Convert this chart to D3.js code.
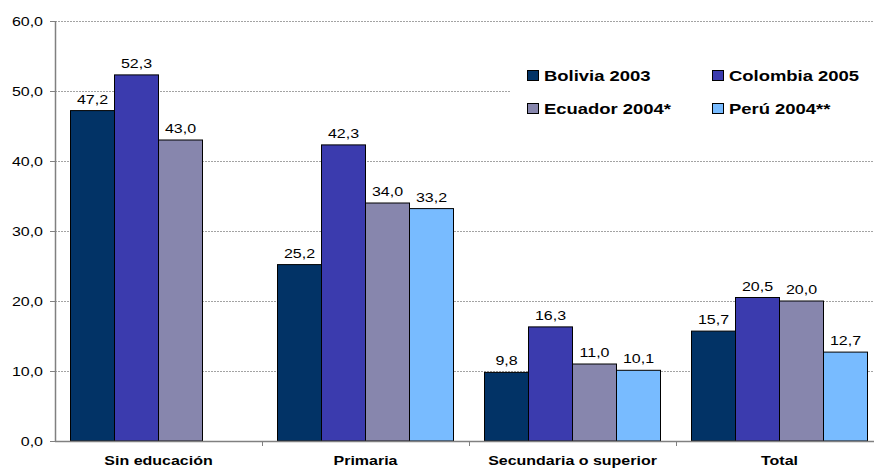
<!DOCTYPE html>
<html>
<head>
<meta charset="utf-8">
<script src="https://cdn.jsdelivr.net/npm/d3@7"></script>
<style>
  html, body { margin: 0; padding: 0; background: #fff; }
  svg { display: block; font-family: Arial, "Liberation Sans", sans-serif; }
</style>
</head>
<body>
<svg id="chart" width="874" height="468"></svg>
<script>
// Educational levels and country series
const categories = ["Sin educación", "Primaria", "Secundaria o superior", "Total"];
const seriesNames = ["Bolivia 2003", "Colombia 2005", "Ecuador 2004*", "Perú 2004**"];
const bolivia  = [47.2, 25.2, 9.8, 15.7];
const colombia = [52.3, 42.3, 16.3, 20.5];
const ecuador  = [43.0, 34.0, 11.0, 20.0];
const peru     = [null, 33.2, 10.1, 12.7];
const seriesColors = ["#023366", "#3b3bae", "#8786ad", "#78bbff"];
const yTicks = [0, 10, 20, 30, 40, 50, 60];

const seriesValues = [bolivia, colombia, ecuador, peru];
const fmt = v => v.toFixed(1).replace(".", ",");

const svg = d3.select("#chart");
const plotLeft = 55, plotRight = 883, plotTop = 21, plotBottom = 441;
const sx = 1.23; // horizontal stretch of all labels

const y = d3.scaleLinear().domain([0, 60]).range([plotBottom, plotTop]);
const x0 = d3.scaleBand().domain(categories).range([plotLeft, plotRight]);
const x1 = d3.scaleBand().domain(seriesNames)
  .range([15.5, x0.bandwidth() - 15.5]);

// stretched text helper
function label(g, xPos, yPos, str, opts) {
  const t = g.append("g")
    .attr("transform", `translate(${xPos},${yPos}) scale(${sx},1)`)
    .append("text")
    .attr("text-anchor", opts.anchor || "middle")
    .attr("font-size", opts.size || 13)
    .attr("font-weight", opts.bold ? "bold" : "normal")
    .attr("fill", "#000")
    .text(str);
  if (opts.dy) t.attr("dy", opts.dy);
  return t;
}

// gridlines
svg.append("g").selectAll("line")
  .data(yTicks.filter(d => d > 0))
  .join("line")
  .attr("x1", plotLeft).attr("x2", 874)
  .attr("y1", d => Math.round(y(d)) + 0.5).attr("y2", d => Math.round(y(d)) + 0.5)
  .attr("stroke", "#a3a3a3").attr("stroke-width", 1)
  .attr("stroke-dasharray", "2,1");

// legend background hides gridlines behind it
svg.append("rect")
  .attr("x", 510).attr("y", 50).attr("width", 364).attr("height", 90)
  .attr("fill", "#fff");

// bars
const groups = svg.append("g").selectAll("g")
  .data(categories)
  .join("g")
  .attr("transform", d => `translate(${x0(d)},0)`);

groups.each(function(cat, ci) {
  const g = d3.select(this);
  seriesNames.forEach((s, si) => {
    const v = seriesValues[si][ci];
    if (v == null) return;
    g.append("rect")
      .attr("x", x1(s)).attr("y", y(v))
      .attr("width", x1.bandwidth()).attr("height", y(0) - y(v))
      .attr("fill", seriesColors[si])
      .attr("stroke", "#000").attr("stroke-width", 1);
    label(g, x1(s) + x1.bandwidth() / 2, y(v) - 7, fmt(v), { size: 13 });
  });
});

// y axis
const axisColor = "#808080";
svg.append("line")
  .attr("x1", plotLeft + 0.5).attr("x2", plotLeft + 0.5)
  .attr("y1", plotTop).attr("y2", plotBottom + 1)
  .attr("stroke", axisColor).attr("stroke-width", 1.5);
const yt = svg.append("g");
yTicks.forEach(t => {
  const yy = Math.round(y(t)) + 0.5;
  yt.append("line").attr("x1", 50).attr("x2", plotLeft)
    .attr("y1", yy).attr("y2", yy).attr("stroke", axisColor);
  label(yt, 43, yy, fmt(t), { anchor: "end", size: 13, dy: "0.35em" });
});

// x axis
svg.append("line")
  .attr("x1", plotLeft).attr("x2", 874)
  .attr("y1", plotBottom + 0.5).attr("y2", plotBottom + 0.5)
  .attr("stroke", axisColor).attr("stroke-width", 1.5);
const xt = svg.append("g");
categories.forEach((c, i) => {
  const xx = Math.round(x0(c) + x0.bandwidth()) + 0.5;
  xt.append("line").attr("x1", xx).attr("x2", xx)
    .attr("y1", plotBottom).attr("y2", plotBottom + 5).attr("stroke", axisColor);
  label(xt, x0(c) + x0.bandwidth() / 2, 465, c, { size: 13, bold: true });
});

// legend
const legendPos = [[527, 70], [712, 70], [527, 103], [712, 103]];
const lg = svg.append("g");
seriesNames.forEach((s, i) => {
  const [lx, ly] = legendPos[i];
  lg.append("rect")
    .attr("x", lx + 0.5).attr("y", ly + 0.5).attr("width", 11).attr("height", 10)
    .attr("fill", seriesColors[i]).attr("stroke", "#000");
  label(lg, lx + 17, ly + 10.5, s, { anchor: "start", size: 15, bold: true });
});
</script>
</body>
</html>
